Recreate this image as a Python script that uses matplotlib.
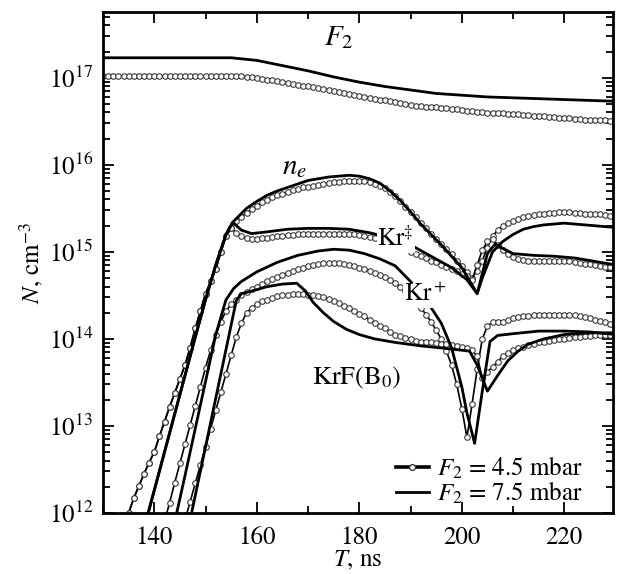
import numpy as np
import matplotlib.pyplot as plt
from matplotlib.lines import Line2D
from matplotlib.ticker import LogLocator, MultipleLocator, NullFormatter

plt.rcParams['font.family'] = 'STIXGeneral'
plt.rcParams['mathtext.fontset'] = 'stix'

nan = np.nan

# 4.5 mbar runs: one sample per ns, 130..230 ns; values are log10(N / cm^-3)
t_45 = np.arange(130, 231)

f2_45 = [17.02, 17.02, 17.02, 17.02, 17.02, 17.02, 17.02, 17.02, 17.02, 17.02,
         17.02, 17.02, 17.02, 17.02, 17.02, 17.02, 17.02, 17.02, 17.02, 17.02,
         17.02, 17.02, 17.02, 17.02, 17.02, 17.02, 17.02, 17.015, 17.01, 17.005,
         17.0, 16.99, 16.98, 16.97, 16.96, 16.95, 16.94, 16.93, 16.92, 16.91,
         16.9, 16.89, 16.88, 16.87, 16.86, 16.85, 16.84, 16.83, 16.81, 16.8,
         16.79, 16.78, 16.77, 16.76, 16.75, 16.74, 16.73, 16.72, 16.71, 16.7,
         16.69, 16.68, 16.68, 16.67, 16.67, 16.66, 16.65, 16.65, 16.64, 16.64,
         16.63, 16.62, 16.62, 16.61, 16.61, 16.6, 16.6, 16.59, 16.59, 16.58,
         16.58, 16.58, 16.57, 16.57, 16.56, 16.56, 16.56, 16.55, 16.55, 16.54,
         16.54, 16.54, 16.53, 16.53, 16.52, 16.52, 16.52, 16.51, 16.51, 16.5,
         16.5]
ne_45 = [nan, nan, nan, nan, 11.83, 12.0, 12.17, 12.31, 12.45, 12.58,
         12.7, 12.88, 13.05, 13.22, 13.38, 13.54, 13.7, 13.9, 14.12, 14.32,
         14.52, 14.66, 14.8, 15.0, 15.18, 15.28, 15.35, 15.4, 15.45, 15.49,
         15.53, 15.57, 15.6, 15.63, 15.65, 15.67, 15.69, 15.71, 15.72, 15.74,
         15.75, 15.76, 15.77, 15.78, 15.79, 15.8, 15.8, 15.81, 15.81, 15.81,
         15.81, 15.81, 15.8, 15.78, 15.76, 15.73, 15.69, 15.64, 15.58, 15.52,
         15.46, 15.4, 15.33, 15.27, 15.21, 15.15, 15.09, 15.03, 14.97, 14.9,
         14.84, 14.77, 14.7, 14.78, 14.9, 15.05, 15.18, 15.25, 15.3, 15.33,
         15.36, 15.38, 15.4, 15.41, 15.42, 15.43, 15.44, 15.45, 15.45, 15.46,
         15.46, 15.46, 15.45, 15.45, 15.44, 15.44, 15.43, 15.43, 15.42, 15.41,
         15.4]
kr2_45 = [nan, nan, nan, nan, 11.83, 12.0, 12.17, 12.31, 12.45, 12.58,
          12.7, 12.88, 13.05, 13.22, 13.38, 13.54, 13.7, 13.9, 14.12, 14.32,
          14.52, 14.66, 14.8, 15.0, 15.18, 15.27, 15.22, 15.18, 15.16, 15.15,
          15.15, 15.16, 15.16, 15.17, 15.18, 15.18, 15.19, 15.19, 15.2, 15.2,
          15.2, 15.2, 15.21, 15.21, 15.21, 15.21, 15.21, 15.21, 15.2, 15.2,
          15.19, 15.18, 15.17, 15.16, 15.14, 15.12, 15.1, 15.08, 15.05, 15.03,
          15.0, 14.98, 14.95, 14.93, 14.9, 14.88, 14.85, 14.83, 14.8, 14.78,
          14.75, 14.72, 14.68, 14.85, 15.02, 15.12, 15.15, 15.08, 15.02, 14.97,
          14.94, 14.92, 14.91, 14.9, 14.9, 14.9, 14.9, 14.9, 14.9, 14.89,
          14.89, 14.89, 14.88, 14.87, 14.86, 14.86, 14.85, 14.84, 14.83, 14.83,
          14.82]
kr_45 = [nan, nan, nan, nan, nan, nan, nan, nan, nan, nan,
         nan, nan, 11.9, 12.12, 12.35, 12.57, 12.79, 13.01, 13.23, 13.45,
         13.67, 13.87, 14.05, 14.2, 14.32, 14.4, 14.45, 14.5, 14.54, 14.57,
         14.6, 14.63, 14.66, 14.69, 14.71, 14.74, 14.76, 14.78, 14.8, 14.82,
         14.84, 14.85, 14.86, 14.87, 14.87, 14.87, 14.87, 14.86, 14.85, 14.84,
         14.82, 14.8, 14.78, 14.76, 14.74, 14.71, 14.68, 14.64, 14.6, 14.55,
         14.5, 14.43, 14.36, 14.28, 14.2, 14.1, 14.0, 13.86, 13.7, 13.48,
         13.2, 12.87, 13.25, 13.65, 14.0, 14.15, 14.19, 14.2, 14.2, 14.22,
         14.24, 14.25, 14.26, 14.26, 14.27, 14.27, 14.28, 14.28, 14.28, 14.28,
         14.28, 14.27, 14.27, 14.26, 14.25, 14.24, 14.22, 14.21, 14.19, 14.17,
         14.16]
krf_45 = [nan, nan, nan, nan, nan, nan, nan, nan, nan, nan,
          nan, nan, nan, nan, nan, nan, 11.92, 12.13, 12.34, 12.55,
          12.76, 12.97, 13.18, 13.39, 13.6, 13.81, 14.02, 14.18, 14.3, 14.36,
          14.4, 14.43, 14.45, 14.47, 14.49, 14.5, 14.51, 14.52, 14.52, 14.52,
          14.51, 14.5, 14.49, 14.48, 14.46, 14.44, 14.41, 14.38, 14.35, 14.32,
          14.29, 14.26, 14.22, 14.18, 14.15, 14.12, 14.08, 14.05, 14.03, 14.01,
          14.0, 13.98, 13.97, 13.97, 13.96, 13.95, 13.94, 13.94, 13.93, 13.92,
          13.91, 13.89, 13.87, 13.8, 13.55, 13.62, 13.68, 13.74, 13.8, 13.84,
          13.87, 13.89, 13.91, 13.93, 13.94, 13.96, 13.97, 13.98, 13.99, 14.0,
          14.0, 14.01, 14.02, 14.02, 14.03, 14.03, 14.04, 14.04, 14.05, 14.05,
          14.05]

# 7.5 mbar runs, own time points
t_f2_75 = [130, 155, 160, 165, 170, 175, 180, 185, 190, 195, 200, 205, 210,
           215, 220, 225, 230]
f2_75 = [17.23, 17.23, 17.2, 17.14, 17.08, 17.01, 16.95, 16.9, 16.86, 16.82,
         16.8, 16.78, 16.77, 16.76, 16.75, 16.74, 16.73]

t_ne_75 = [138, 140, 142, 144, 146, 148, 150, 152, 154, 155.3, 158, 160,
           162, 164, 166, 168, 170, 172, 174, 176, 178, 180, 182, 184, 186,
           188, 190, 192, 194, 196, 198, 200, 202, 203, 204, 206, 208, 210,
           212, 214, 216, 218, 220, 222, 224, 226, 228, 230]
ne_75 = [11.82, 12.26, 12.7, 13.14, 13.58, 14.02, 14.45, 14.85, 15.2, 15.34,
         15.5, 15.58, 15.65, 15.7, 15.74, 15.78, 15.82, 15.84, 15.86, 15.87,
         15.88, 15.87, 15.84, 15.79, 15.7, 15.59, 15.46, 15.32, 15.2, 15.08,
         14.95, 14.82, 14.62, 14.52, 14.7, 15.0, 15.12, 15.2, 15.26, 15.29,
         15.31, 15.32, 15.33, 15.32, 15.31, 15.3, 15.29, 15.28]

t_kr2_75 = [138, 140, 142, 144, 146, 148, 150, 152, 154, 155.3, 157, 159,
            162, 166, 170, 174, 178, 182, 186, 190, 194, 198, 201, 203, 204,
            205, 206.5, 208, 210, 214, 218, 222, 226, 230]
kr2_75 = [11.82, 12.26, 12.7, 13.14, 13.58, 14.02, 14.45, 14.85, 15.2, 15.34,
          15.25, 15.21, 15.23, 15.26, 15.27, 15.27, 15.26, 15.22, 15.16, 15.08,
          14.95, 14.82, 14.68, 14.52, 14.75, 14.98, 15.09, 15.04, 14.98, 14.96,
          14.95, 14.93, 14.89, 14.85]

t_kr_75 = [144, 146, 148, 150, 152, 154, 155.5, 157, 160, 164, 168, 172,
           175, 178, 181, 184, 187, 190, 193, 196, 198, 200, 201, 202.5, 204,
           205.5, 207, 210, 215, 220, 225, 230]
kr_75 = [11.9, 12.43, 12.97, 13.51, 14.05, 14.45, 14.58, 14.66, 14.77, 14.88,
         14.96, 15.01, 15.03, 15.02, 14.98, 14.92, 14.84, 14.66, 14.45, 14.18,
         13.9, 13.45, 13.15, 12.8, 13.4, 13.97, 14.04, 14.06, 14.09, 14.09,
         14.08, 14.05]

t_krf_75 = [147, 148, 150, 152, 154, 156, 157, 159, 162, 165, 167.8, 169.5,
            171, 173, 175, 177.5, 180, 183, 187, 192, 197, 201.5, 203, 205,
            207, 209, 211, 213, 216, 220, 225, 230]
krf_75 = [11.92, 12.2, 12.76, 13.32, 13.88, 14.44, 14.52, 14.55, 14.6, 14.63,
          14.64, 14.55, 14.42, 14.3, 14.2, 14.11, 14.05, 14.0, 13.96, 13.92,
          13.89, 13.86, 13.7, 13.4, 13.58, 13.75, 13.86, 13.94, 14.0, 14.05,
          14.07, 14.07]

fig = plt.figure(figsize=(6.18, 5.74), dpi=100)
ax = fig.add_axes([103 / 618, 1 - 513 / 574, 510 / 618, 501 / 574])

circ = dict(color='black', lw=1.2, marker='o', ms=4.0, mfc='white',
            mec='#3a3a3a', mew=0.8)
for y in [f2_45, ne_45, kr2_45, kr_45, krf_45]:
    ax.plot(t_45, 10 ** np.array(y), **circ)

for t, y in [(t_f2_75, f2_75), (t_ne_75, ne_75), (t_kr2_75, kr2_75),
             (t_kr_75, kr_75), (t_krf_75, krf_75)]:
    ax.plot(t, 10 ** np.array(y), color='black', lw=2.0)

ax.set_yscale('log')
ax.set_xlim(130, 229.5)
ax.set_ylim(1e12, 5.7e17)
ax.xaxis.set_major_locator(MultipleLocator(20))
ax.xaxis.set_minor_locator(MultipleLocator(10))
ax.yaxis.set_major_locator(LogLocator(base=10, numticks=10))
ax.yaxis.set_minor_locator(LogLocator(base=10, subs=np.arange(2, 10), numticks=20))
ax.yaxis.set_minor_formatter(NullFormatter())
ax.tick_params(which='both', direction='in', top=True, right=True,
               labelsize=18, width=1.3)
ax.tick_params(which='major', length=8)
ax.tick_params(which='minor', length=5)
ax.tick_params(axis='x', pad=9)
ax.tick_params(axis='y', pad=7)
for s in ax.spines.values():
    s.set_linewidth(2)

ax.set_xlabel('$T$, ns', fontsize=18, labelpad=-1)
ax.set_ylabel('$N$, cm$^{-3}$', fontsize=18, labelpad=2)

box = dict(fc='white', ec='none', pad=0.5)
ax.text(176.0, 10 ** 17.46, '$F_2$', fontsize=21, ha='center', va='center')
ax.text(167.4, 10 ** 15.97, '$n_e$', fontsize=21, ha='center', va='center')
ax.text(187.1, 10 ** 15.14, r'Kr$^{\ddag}$', fontsize=18, ha='center',
        va='center', bbox=box)
ax.text(192.8, 10 ** 14.5, 'Kr$^+$', fontsize=18, ha='center', va='center',
        bbox=box)
ax.text(179.5, 10 ** 13.55, 'KrF(B$_0$)', fontsize=19, ha='center',
        va='center')

h1 = Line2D([], [], color='black', lw=2.6, marker='o', ms=4.2, mfc='white',
            mec='#3a3a3a')
h2 = Line2D([], [], color='black', lw=2.0)
ax.legend([h1, h2], ['$F_2$ = 4.5 mbar', '$F_2$ = 7.5 mbar'], loc='lower right',
          bbox_to_anchor=(0.94, 0.012), frameon=False, fontsize=18,
          handlelength=1.3, handletextpad=0.32, borderpad=0, borderaxespad=0,
          labelspacing=-0.05, numpoints=1)

fig.savefig('out.png', dpi=100)
